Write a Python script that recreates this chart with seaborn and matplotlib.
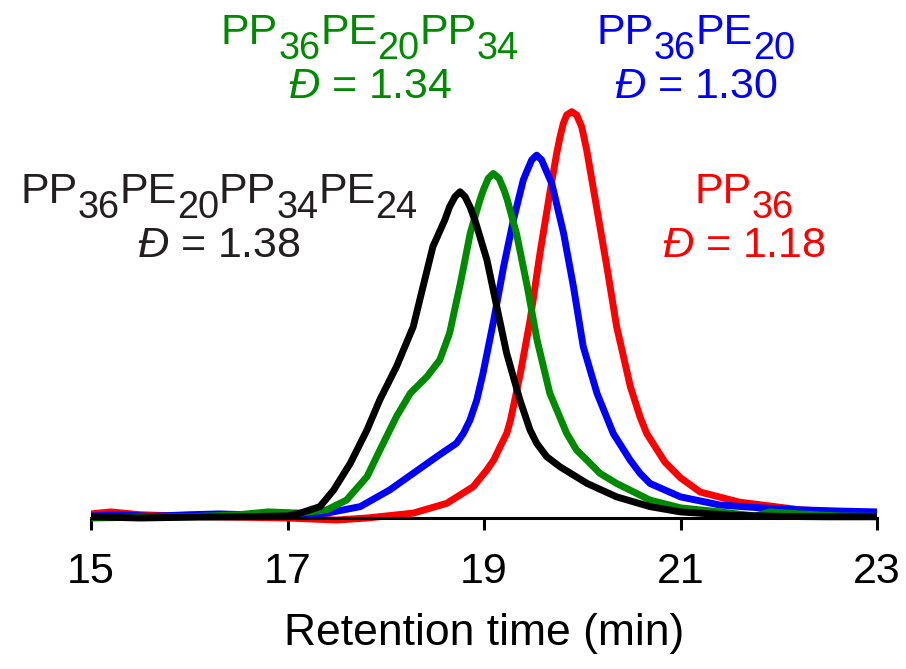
import matplotlib
matplotlib.use('Agg')
import matplotlib.pyplot as plt
import seaborn as sns
import pandas as pd
from matplotlib.transforms import IdentityTransform

# ---------------- data ----------------
xticks = [15, 17, 19, 21, 23]
xlabel = "Retention time (min)"

black_t = [15.0, 15.5, 16.0, 16.5, 17.0, 17.13, 17.33, 17.47, 17.64, 17.81, 17.94, 18.11, 18.28,
           18.38, 18.48, 18.60, 18.65, 18.705, 18.756, 18.807, 18.857, 18.908, 19.03, 19.13,
           19.23, 19.366, 19.468, 19.536, 19.638, 19.774, 20.05, 20.35, 20.69, 21.0, 21.5, 22.0,
           22.5, 23.0]
black_y = [0.003, 0.0, 0.002, 0.003, 0.005, 0.012, 0.028, 0.069, 0.135, 0.217, 0.291, 0.373, 0.471,
           0.570, 0.668, 0.733, 0.766, 0.791, 0.803, 0.791, 0.766, 0.733, 0.635, 0.520,
           0.406, 0.290, 0.217, 0.184, 0.151, 0.126, 0.085, 0.052, 0.028, 0.015, 0.007, 0.004,
           0.003, 0.003]

green_t = [15.0, 15.5, 16.0, 16.5, 16.8, 17.13, 17.40, 17.60, 17.81, 17.94, 18.11, 18.25, 18.42,
           18.55, 18.65, 18.76, 18.86, 18.959, 18.993, 19.044, 19.095, 19.153, 19.204, 19.237,
           19.33, 19.44, 19.54, 19.67, 19.842, 19.943, 20.045, 20.18, 20.35, 20.69, 21.0, 21.4,
           21.76, 21.91, 22.22, 22.62, 23.0]
green_y = [0.0, 0.002, 0.003, 0.008, 0.015, 0.012, 0.020, 0.044, 0.102, 0.167, 0.250, 0.307, 0.348,
           0.389, 0.455, 0.578, 0.701, 0.783, 0.807, 0.836, 0.848, 0.836, 0.807, 0.783,
           0.701, 0.570, 0.438, 0.307, 0.208, 0.167, 0.143, 0.110, 0.085, 0.044, 0.025, 0.015,
           0.005, 0.015, 0.010, 0.005, 0.004]

blue_t = [15.0, 15.3, 15.6, 16.0, 16.3, 16.6, 17.0, 17.40, 17.74, 18.04, 18.28, 18.52, 18.72,
          18.79, 18.857, 18.926, 18.99, 19.10, 19.20, 19.30, 19.400, 19.434, 19.485, 19.536,
          19.587, 19.638, 19.689, 19.81, 19.91, 20.01, 20.15, 20.316, 20.486, 20.588, 20.69,
          21.0, 21.4, 21.81, 22.22, 22.62, 23.0]
blue_y = [0.005, 0.008, 0.004, 0.008, 0.010, 0.008, 0.008, 0.012, 0.028, 0.069, 0.110, 0.151, 0.184,
          0.208, 0.241, 0.290, 0.356, 0.488, 0.619, 0.734, 0.832, 0.852, 0.881, 0.893,
          0.881, 0.852, 0.824, 0.701, 0.570, 0.422, 0.307, 0.208, 0.143, 0.110, 0.085,
          0.052, 0.032, 0.025, 0.020, 0.017, 0.015]

red_t = [15.0, 15.2, 15.5, 16.0, 16.5, 17.0, 17.5, 17.81, 18.28, 18.62, 18.89, 19.028, 19.10,
         19.163, 19.231, 19.27, 19.313, 19.37, 19.47, 19.57, 19.67, 19.740, 19.774, 19.807,
         19.842, 19.893, 19.943, 19.994, 20.045, 20.15, 20.25, 20.35, 20.49, 20.588, 20.656,
         20.84, 21.0, 21.2, 21.6, 22.22, 22.62, 23.0]
red_y = [0.010, 0.015, 0.008, 0.004, 0.002, 0.0, -0.005, 0.0, 0.012, 0.036, 0.077, 0.118, 0.143,
         0.175, 0.208, 0.241, 0.290, 0.356, 0.488, 0.652, 0.800, 0.898, 0.938, 0.971,
         0.992, 1.0, 0.992, 0.963, 0.906, 0.759, 0.619, 0.471, 0.323, 0.249, 0.208,
         0.138, 0.099, 0.064, 0.039, 0.020, 0.015, 0.010]

# sample labels: blocks (name, degree of polymerisation) and dispersity
red_blocks = [("PP", "36")]
blue_blocks = [("PP", "36"), ("PE", "20")]
green_blocks = [("PP", "36"), ("PE", "20"), ("PP", "34")]
black_blocks = [("PP", "36"), ("PE", "20"), ("PP", "34"), ("PE", "24")]
dispersity = {"red": 1.18, "blue": 1.30, "green": 1.34, "black": 1.38}

colors = {"red": "#ff0000", "blue": "#0000ff", "green": "#008a00", "black": "#000000"}
label_colors = {"red": "#ff0000", "blue": "#0000ff", "green": "#008a00", "black": "#231f20"}

# ---------------- style ----------------
sns.set_theme(style="white")
plt.rcParams["font.family"] = ["Liberation Sans", "DejaVu Sans"]
plt.rcParams["mathtext.fontset"] = "custom"
plt.rcParams["mathtext.rm"] = "Liberation Sans"
plt.rcParams["mathtext.it"] = "Liberation Sans:italic"
plt.rcParams["mathtext.default"] = "regular"

W, H = 906, 669
fig = plt.figure(figsize=(W / 100, H / 100), dpi=100)
fig.patch.set_facecolor("white")
ax = fig.add_axes([91 / W, (H - 525) / H, (877 - 91) / W, (525 - 40) / H])
ax.set_facecolor("none")

frames = []
for name, t, y in [("red", red_t, red_y), ("blue", blue_t, blue_y),
                   ("green", green_t, green_y), ("black", black_t, black_y)]:
    frames.append(pd.DataFrame({"t": t, "y": y, "sample": name}))
df = pd.concat(frames, ignore_index=True)

for name in ["red", "blue", "green", "black"]:
    sns.lineplot(data=df[df["sample"] == name], x="t", y="y", color=colors[name],
                 linewidth=5.0, estimator=None, sort=False, ax=ax, legend=False)
for line in ax.get_lines():
    line.set_solid_joinstyle("round")
    line.set_solid_capstyle("round")

ax.set_xlim(15, 23)
ax.set_ylim(-7 / 406.3, (518 - 40) / 406.3)
ax.set_xticks(xticks)
ax.set_xticklabels([str(v) for v in xticks])
ax.set_yticks([])
ax.set_ylabel("")
for s in ["left", "right", "top"]:
    ax.spines[s].set_visible(False)
ax.spines["bottom"].set_position(("data", 0))
ax.spines["bottom"].set_linewidth(2.2)
ax.spines["bottom"].set_color("black")
ax.tick_params(axis="x", bottom=True, direction="out", length=8.5, width=2.2,
               color="black", labelsize=31, pad=16, labelcolor="black")
ax.set_xlabel(xlabel, fontsize=32, color="black")
ax.xaxis.label.set_va("center")
ax.xaxis.set_label_coords(0.5, (525 - 633) / 485)

# ---------------- labels ----------------
SIZE = 31
renderer = fig.canvas.get_renderer()


def rich_line(cx, base_y, blocks, color, size):
    em = size * 100 / 72
    pieces = []
    for name, dp in blocks:
        pieces.append((name, False))
        pieces.append((dp, True))
    arts = []
    for s, sub in pieces:
        fs = size * 0.88 if sub else size
        t = fig.text(0, 0, s, fontsize=fs, color=color, ha="left", va="baseline",
                     transform=IdentityTransform())
        arts.append((t, sub))
    widths = [a.get_window_extent(renderer).width for a, _ in arts]
    gap = 0.0
    total = sum(widths) + gap * (len(arts) - 1)
    x = cx - total / 2
    for (a, sub), w in zip(arts, widths):
        y = H - base_y - (0.35 * em if sub else 0)
        a.set_position((x, y))
        x += w + gap


def disp_line(cx, base_y, value, color, size):
    fig.text(cx, H - base_y, r"$\mathit{Đ}$ = " + f"{value:.2f}", fontsize=size, color=color,
             ha="center", va="baseline", transform=IdentityTransform())


label_pos = {"green": (370, 44, 98), "blue": (696, 44, 98),
             "black": (219, 203, 257), "red": (744, 203, 257)}
blocks = {"red": red_blocks, "blue": blue_blocks, "green": green_blocks, "black": black_blocks}
for name in ["green", "blue", "black", "red"]:
    cx, b1, b2 = label_pos[name]
    rich_line(cx, b1, blocks[name], label_colors[name], SIZE)
    disp_line(cx, b2, dispersity[name], label_colors[name], SIZE)

fig.savefig("out.png", dpi=100, facecolor="white")
